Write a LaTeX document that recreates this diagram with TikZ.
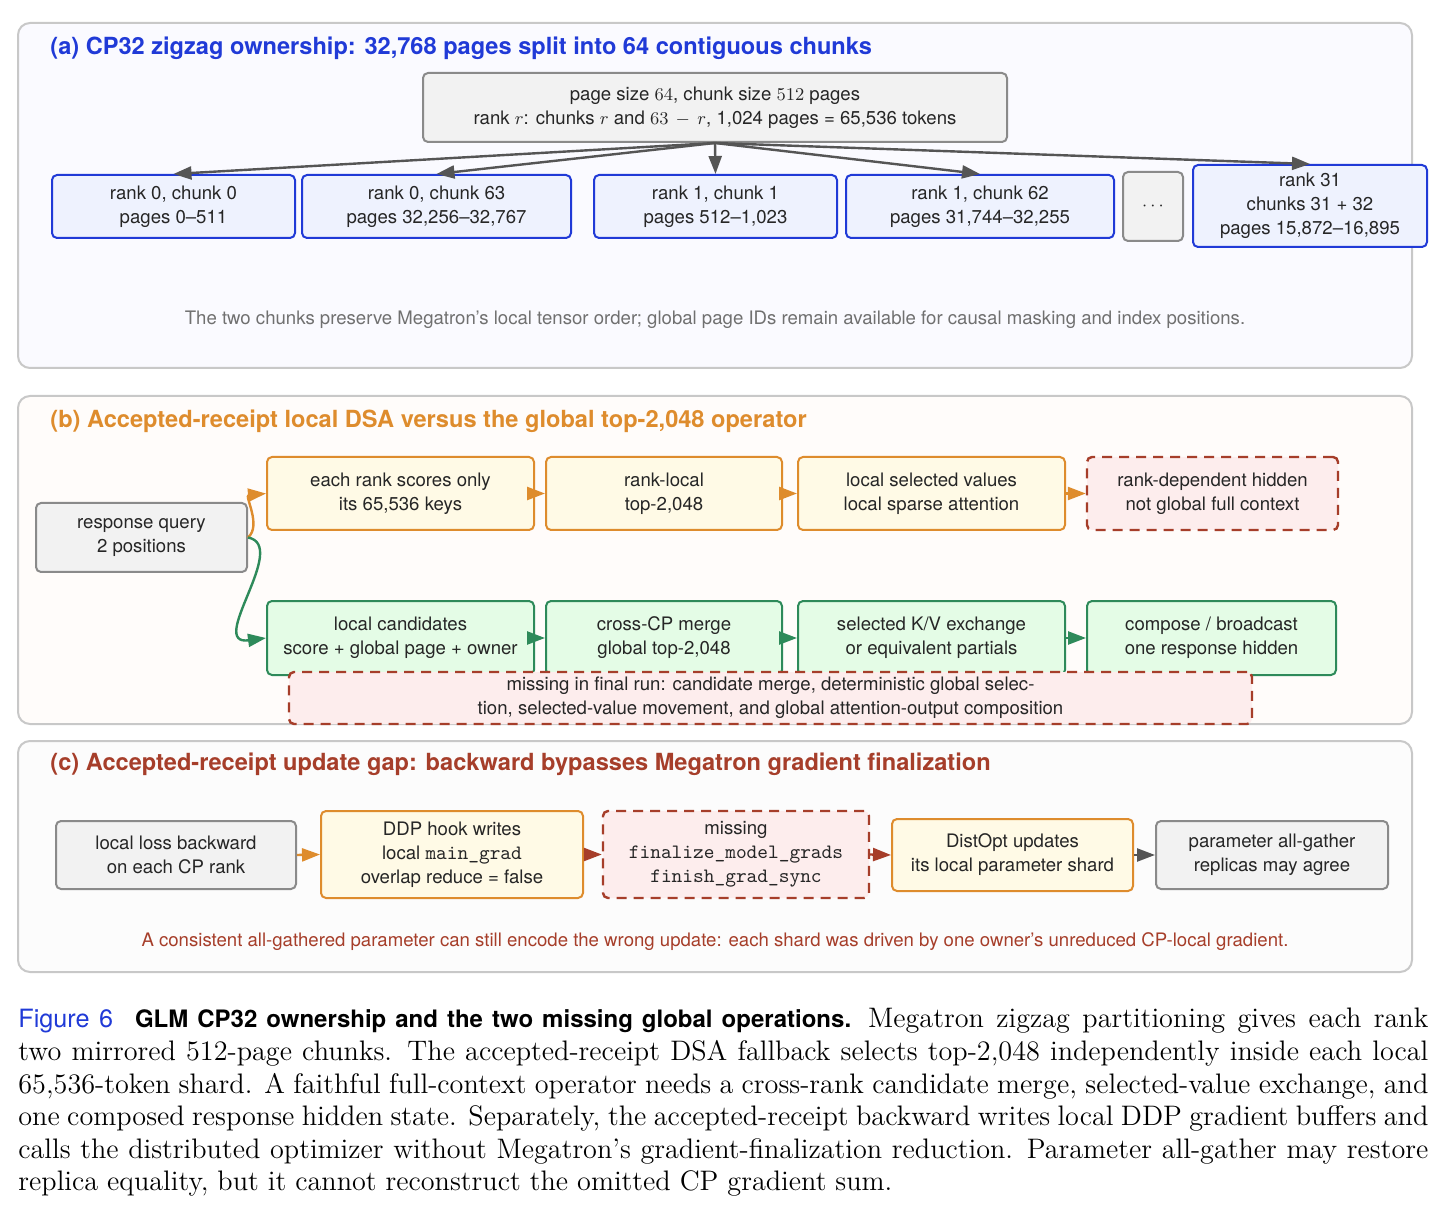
\documentclass[tikz,border=0pt]{standalone}
\usepackage{fontspec}
\newfontfamily\hv[Ligatures=TeX]{TeX Gyre Heros}
\usetikzlibrary{arrows.meta}

\definecolor{ablue}{RGB}{32,58,215}
\definecolor{borange}{RGB}{222,140,45}
\definecolor{bgreen}{RGB}{46,138,90}
\definecolor{cbrick}{RGB}{166,62,42}
\definecolor{boxgray}{RGB}{138,138,138}
\definecolor{arrowgray}{RGB}{85,85,85}
\definecolor{notegray}{RGB}{112,112,112}
\definecolor{panelline}{RGB}{200,200,200}
\definecolor{dsafill}{RGB}{255,250,230}
\definecolor{gfill}{RGB}{228,252,230}
\definecolor{missfill}{RGB}{253,237,237}
\definecolor{rankfill}{RGB}{238,242,254}

\newcommand\boxfont{\hv\fontsize{9.3}{12}\selectfont}
\newcommand\headfont{\hv\bfseries\fontsize{11.8}{14}\selectfont}
\newcommand\capfont{\fontsize{14.1}{16.3}\selectfont}
\newcommand\code[1]{{\fontsize{10.2}{12}\selectfont\ttfamily #1}}

\tikzset{
  panel/.style={draw=panelline, line width=1pt, rounded corners=6pt},
  box/.style={draw, rounded corners=2.5pt, line width=1pt, align=center,
    inner sep=0pt, text=black!85, font=\boxfont},
  graybox/.style={box, draw=boxgray, fill=black!5},
  rankbox/.style={box, draw=ablue, fill=rankfill},
  dsabox/.style={box, draw=borange, fill=dsafill},
  globbox/.style={box, draw=bgreen, fill=gfill},
  missbox/.style={box, draw=cbrick, fill=missfill, dash pattern=on 5pt off 3.5pt,
    line width=1.2pt},
  arr/.style={-{Triangle[length=9pt,width=6.5pt]}, line width=1.2pt},
}

\begin{document}
\begin{tikzpicture}[x=0.5pt, y=-0.5pt]
  \useasboundingbox (0,0) rectangle (1445,1213);

  % panels
  \draw[panel, fill=blue!2!white] (18,23) rectangle (1412,368);
  \draw[panel, fill=orange!2!white] (18,396) rectangle (1412,724);
  \draw[panel, fill=black!1!white] (18,741) rectangle (1412,972);

  \node[anchor=base west, inner sep=0pt, font=\headfont, text=ablue] (ahead) at (50,55)
    {(a) CP32 zigzag ownership: 32,768 pages split into 64 contiguous chunks};
  \node[anchor=base west, inner sep=0pt, font=\headfont, text=borange] (bhead) at (50,428)
    {(b) Accepted-receipt local DSA versus the global top-2,048 operator};
  \node[anchor=base west, inner sep=0pt, font=\headfont, text=cbrick] (chead) at (50,770)
    {(c) Accepted-receipt update gap: backward bypasses Megatron gradient finalization};

  % (a) ownership
  \node[graybox, minimum width=292pt, minimum height=34.5pt] (cfg) at (715,107.5)
    {page size $64$, chunk size $512$ pages\\rank $r$: chunks $r$ and $63\,-\,r$, 1,024 pages = 65,536 tokens};

  \foreach \nm/\cx/\bw/\txt in {c0/173.5/121.5/{rank 0, chunk 0\\pages 0--511},
      c63/436.5/134.5/{rank 0, chunk 63\\pages 32,256--32,767},
      c1/715.5/121.5/{rank 1, chunk 1\\pages 512--1,023},
      c62/980/134/{rank 1, chunk 62\\pages 31,744--32,255}} {
    \node[rankbox, minimum width=\bw pt, minimum height=31.5pt] (\nm) at (\cx,206.5) {\txt};
  }
  \node[graybox, minimum width=30pt, minimum height=34.5pt] (dots) at (1153,206.5) {$\cdots$};
  \node[rankbox, minimum width=117pt, minimum height=41pt] (r31) at (1310,206)
    {rank 31\\chunks 31 + 32\\pages 15,872--16,895};

  \foreach \nm in {c0,c63,c1,c62,r31}
    \draw[arr, arrowgray] (cfg.south) -- (\nm.north);

  \node[font=\boxfont, text=notegray] (anote) at (715,320)
    {The two chunks preserve Megatron's local tensor order; global page IDs remain available for causal masking and index positions.};

  % (b) local vs global
  \node[graybox, minimum width=105.5pt, minimum height=34.5pt] (q) at (141.5,537.5)
    {response query\\2 positions};

  \node[dsabox, minimum width=133.5pt, minimum height=36.5pt] (s1) at (400.5,493.5)
    {each rank scores only\\its 65,536 keys};
  \node[dsabox, minimum width=118pt, minimum height=36.5pt] (s2) at (664,493.5)
    {rank-local\\top-2,048};
  \node[dsabox, minimum width=133.5pt, minimum height=36.5pt] (s3) at (931.5,493.5)
    {local selected values\\local sparse attention};
  \node[missbox, minimum width=125.5pt, minimum height=36.5pt] (s4) at (1212.5,493.5)
    {rank-dependent hidden\\not global full context};

  \node[globbox, minimum width=133.5pt, minimum height=37pt] (g1) at (400.5,638)
    {local candidates\\score + global page + owner};
  \node[globbox, minimum width=118pt, minimum height=37pt] (g2) at (664,638)
    {cross-CP merge\\global top-2,048};
  \node[globbox, minimum width=133.5pt, minimum height=37pt] (g3) at (931.5,638)
    {selected K/V exchange\\or equivalent partials};
  \node[globbox, minimum width=124.5pt, minimum height=37pt] (g4) at (1211.5,638)
    {compose / broadcast\\one response hidden};

  \node[missbox, minimum width=481.5pt, minimum height=26pt] (gap) at (770.5,698)
    {missing in final run: candidate merge, deterministic global selec-\\tion, selected-value movement, and global attention-output composition};

  \draw[arr, borange] (q.east) .. controls +(14,-12) and +(-22,2) .. (s1.west);
  \draw[arr, bgreen] (q.east) .. controls +(42,8) and +(-60,8) .. (g1.west);
  \draw[arr, borange] (s1.east) -- (s2.west);
  \draw[arr, borange] (s2.east) -- (s3.west);
  \draw[arr, borange] (s3.east) -- (s4.west);
  \draw[arr, bgreen] (g1.east) -- (g2.west);
  \draw[arr, bgreen] (g2.east) -- (g3.west);
  \draw[arr, bgreen] (g3.east) -- (g4.west);

  % (c) update gap
  \node[graybox, minimum width=120pt, minimum height=34pt] (l1) at (176,855)
    {local loss backward\\on each CP rank};
  \node[dsabox, minimum width=131pt, minimum height=43.5pt] (l2) at (452,854.5)
    {DDP hook writes\\local \code{main\_grad}\\overlap reduce = false};
  \node[missbox, minimum width=133pt, minimum height=43.5pt] (l3) at (736,854.5)
    {missing\\\code{finalize\_model\_grads}\\\code{finish\_grad\_sync}};
  \node[dsabox, minimum width=120.5pt, minimum height=36pt] (l4) at (1012.5,855)
    {DistOpt updates\\its local parameter shard};
  \node[graybox, minimum width=116pt, minimum height=34pt] (l5) at (1272,855)
    {parameter all-gather\\replicas may agree};

  \draw[arr, borange] (l1.east) -- (l2.west);
  \draw[arr, cbrick] (l2.east) -- (l3.west);
  \draw[arr, cbrick] (l3.east) -- (l4.west);
  \draw[arr, arrowgray] (l4.east) -- (l5.west);

  \node[font=\boxfont, text=cbrick] (cnote) at (715,942)
    {A consistent all-gathered parameter can still encode the wrong update: each shard was driven by one owner's unreduced CP-local gradient.};

  % caption
  \node[anchor=north west, inner sep=0pt, align=left, font=\capfont] (cap) at (18,1008)
    {\makebox[705pt][s]{{\hv\fontsize{12.6}{16.3}\selectfont\color{ablue}Figure 6}\hspace{11pt}{\hv\bfseries\fontsize{12}{16.3}\selectfont GLM CP32 ownership and the two missing global operations.}\hspace{0.6em}Megatron zigzag partitioning gives each rank}\\
     \makebox[705pt][s]{two mirrored 512-page chunks. The accepted-receipt DSA fallback selects top-2,048 independently inside each local}\\
     \makebox[705pt][s]{65,536-token shard. A faithful full-context operator needs a cross-rank candidate merge, selected-value exchange, and}\\
     \makebox[705pt][s]{one composed response hidden state. Separately, the accepted-receipt backward writes local DDP gradient buffers and}\\
     \makebox[705pt][s]{calls the distributed optimizer without Megatron's gradient-finalization reduction. Parameter all-gather may restore}\\
     \makebox[437pt][s]{replica equality, but it cannot reconstruct the omitted CP gradient sum.}};
\end{tikzpicture}
\end{document}
